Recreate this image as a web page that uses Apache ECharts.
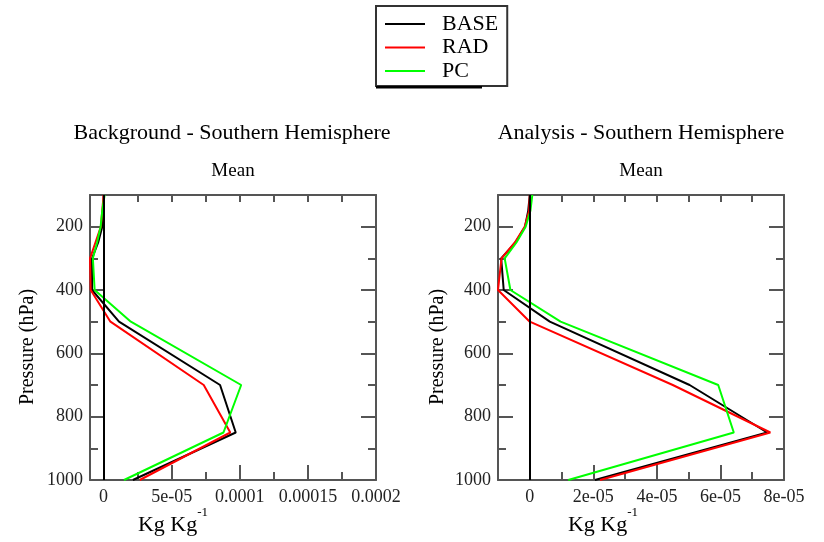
<!DOCTYPE html>
<html>
<head>
<meta charset="utf-8">
<script src="https://cdn.jsdelivr.net/npm/echarts@6/dist/echarts.min.js"></script>
<style>
html,body{margin:0;padding:0;background:#fff;}
#chart{width:824px;height:542px;}
</style>
</head>
<body>
<div id="chart"></div>
<script>
// ---- data ----
const pressure = [100, 150, 200, 250, 300, 400, 500, 700, 850, 1000];

// Background - Southern Hemisphere (Kg/Kg)
const bgBase = [0, 0, -1e-6, -4e-6, -8.5e-6, -8.5e-6, 1.13e-5, 8.55e-5, 9.7e-5, 2.15e-5];
const bgRad  = [0, -1e-6, -2e-6, -6e-6, -1.0e-5, -9.5e-6, 5e-6, 7.35e-5, 9.3e-5, 2.65e-5];
const bgPc   = [7e-7, -1e-6, -2.2e-6, -4.8e-6, -7.9e-6, -6.6e-6, 2.0e-5, 1.01e-4, 8.8e-5, 1.5e-5];

// Analysis - Southern Hemisphere (Kg/Kg)
const anBase = [0, -5e-7, -1.5e-6, -4.5e-6, -9e-6, -8.2e-6, 6.3e-6, 5.03e-5, 7.47e-5, 2.05e-5];
const anRad  = [0, -2e-7, -1.6e-6, -4.7e-6, -8.9e-6, -1.0e-5, 0, 4.5e-5, 7.57e-5, 2.21e-5];
const anPc   = [8e-7, 2e-7, -1.3e-6, -4.2e-6, -7.9e-6, -6.1e-6, 9.7e-6, 5.93e-5, 6.42e-5, 1.21e-5];

// tick values / labels
const bgXTicks = [0, 5e-5, 1e-4, 1.5e-4, 2e-4];
const bgXTickLabels = ['0', '5e-05', '0.0001', '0.00015', '0.0002'];
const bgXMinor = [2.5e-5, 7.5e-5, 1.25e-4, 1.75e-4];
const anXTicks = [0, 2e-5, 4e-5, 6e-5, 8e-5];
const anXTickLabels = ['0', '2e-05', '4e-05', '6e-05', '8e-05'];
const anXMinor = [1e-5, 3e-5, 5e-5, 7e-5];
const pTicks = [200, 400, 600, 800, 1000];
const pTickLabels = ['200', '400', '600', '800', '1000'];
const pMinor = [300, 500, 700, 900];

const seriesNames = ['BASE', 'RAD', 'PC'];
const seriesColors = ['#000000', '#ff0000', '#00ff00'];
const panelTitles = ['Background - Southern Hemisphere', 'Analysis - Southern Hemisphere'];
const panelSubtitle = 'Mean';
const yName = 'Pressure (hPa)';

// ---- styling ----
const FONT = '"Liberation Serif", "Times New Roman", serif';
const FRAME = '#555';
const lineSt = {color: FRAME, width: 2};

function labelFmt(ticks, labels) {
  return function (v) {
    const i = ticks.findIndex(t => Math.abs(t - v) < 1e-12);
    return i >= 0 ? labels[i] : '';
  };
}

function xAxesFor(g, min, max, majors, minors, labels) {
  return [
    { gridIndex: g, type: 'value', min, max, position: 'bottom',
      axisLine: {show: true, onZero: false, lineStyle: lineSt},
      axisTick: {show: true, inside: true, length: 15, customValues: majors, lineStyle: lineSt},
      axisLabel: {show: true, customValues: majors, formatter: labelFmt(majors, labels),
                  fontFamily: FONT, fontSize: 18, color: '#222', margin: 8},
      splitLine: {show: false} },
    { gridIndex: g, type: 'value', min, max, position: 'bottom',
      axisLine: {show: false, onZero: false},
      axisTick: {show: true, inside: true, length: 8, customValues: minors, lineStyle: lineSt},
      axisLabel: {show: false}, splitLine: {show: false} },
    { gridIndex: g, type: 'value', min, max, position: 'top',
      axisLine: {show: true, onZero: false, lineStyle: lineSt},
      axisTick: {show: true, inside: true, length: 7, customValues: majors.concat(minors), lineStyle: lineSt},
      axisLabel: {show: false}, splitLine: {show: false} }
  ];
}

function yAxesFor(g) {
  const base = {gridIndex: g, type: 'value', min: 100, max: 1000, inverse: true, splitLine: {show: false}};
  return [
    Object.assign({}, base, { position: 'left',
      axisLine: {show: true, onZero: false, lineStyle: lineSt},
      axisTick: {show: true, inside: true, length: 15, customValues: pTicks, lineStyle: lineSt},
      axisLabel: {show: true, customValues: pTicks, formatter: labelFmt(pTicks, pTickLabels),
                  fontFamily: FONT, fontSize: 18, color: '#222', margin: 7} }),
    Object.assign({}, base, { position: 'left',
      axisLine: {show: false, onZero: false},
      axisTick: {show: true, inside: true, length: 8, customValues: pMinor, lineStyle: lineSt},
      axisLabel: {show: false} }),
    Object.assign({}, base, { position: 'right',
      axisLine: {show: true, onZero: false, lineStyle: lineSt},
      axisTick: {show: true, inside: true, length: 15, customValues: pTicks, lineStyle: lineSt},
      axisLabel: {show: false} }),
    Object.assign({}, base, { position: 'right',
      axisLine: {show: false, onZero: false},
      axisTick: {show: true, inside: true, length: 8, customValues: pMinor, lineStyle: lineSt},
      axisLabel: {show: false} })
  ];
}

function mkSeries(name, color, values, xi, yi, withZero) {
  const s = {
    name, type: 'line', xAxisIndex: xi, yAxisIndex: yi,
    data: values.map((v, i) => [v, pressure[i]]),
    showSymbol: false, symbol: 'none',
    lineStyle: {color, width: 2}, itemStyle: {color},
    animation: false, silent: true
  };
  if (withZero) {
    s.markLine = {silent: true, symbol: 'none', animation: false,
      label: {show: false},
      lineStyle: {color: '#000', width: 2, type: 'solid'},
      data: [{xAxis: 0}]};
  }
  return s;
}

const grids = [
  {left: 90, top: 195, width: 286, height: 285},
  {left: 498, top: 195, width: 286, height: 285}
];

function txt(x, y, text, size, rot) {
  return {type: 'text', x, y, rotation: rot || 0, z: 50,
    style: {text, fontFamily: FONT, fontSize: size, fill: '#000',
      align: 'center', verticalAlign: 'middle', textAlign: 'center', textVerticalAlign: 'middle'}};
}
function unitTxt(x, y) {
  return {type: 'text', x, y, z: 50, style: {text: '{a|Kg Kg}{b|-1}', fill: '#000',
    align: 'center', verticalAlign: 'middle', textAlign: 'center', textVerticalAlign: 'middle',
    rich: {a: {fontFamily: FONT, fontSize: 22, lineHeight: 30, verticalAlign: 'bottom'},
           b: {fontFamily: FONT, fontSize: 13, lineHeight: 30, verticalAlign: 'top'}}}};
}

const option = {
  backgroundColor: '#fff',
  animation: false,
  grid: grids,
  xAxis: [].concat(
    xAxesFor(0, -1e-5, 2e-4, bgXTicks, bgXMinor, bgXTickLabels),
    xAxesFor(1, -1e-5, 8e-5, anXTicks, anXMinor, anXTickLabels)
  ),
  yAxis: [].concat(yAxesFor(0), yAxesFor(1)),
  legend: {
    data: seriesNames.map(n => ({name: n})),
    orient: 'vertical', left: 376, top: 6,
    icon: 'rect', itemWidth: 40, itemHeight: 2, itemGap: 1.5,
    padding: [7, 9, 4, 9],
    borderColor: '#333', borderWidth: 2, backgroundColor: '#fff',
    textStyle: {fontFamily: FONT, fontSize: 22, color: '#000', padding: [0, 0, 0, 12], lineHeight: 22},
    selectedMode: false
  },
  series: [
    mkSeries('BASE', seriesColors[0], bgBase, 0, 0, true),
    mkSeries('RAD', seriesColors[1], bgRad, 0, 0, false),
    mkSeries('PC', seriesColors[2], bgPc, 0, 0, false),
    mkSeries('BASE', seriesColors[0], anBase, 3, 4, true),
    mkSeries('RAD', seriesColors[1], anRad, 3, 4, false),
    mkSeries('PC', seriesColors[2], anPc, 3, 4, false)
  ],
  graphic: [
    {type: 'rect', z: 100, shape: {x: 376, y: 86, width: 106, height: 2.5}, style: {fill: '#000'}},
    txt(232, 133, panelTitles[0], 22),
    txt(641, 133, panelTitles[1], 22),
    txt(233, 171, panelSubtitle, 19),
    txt(641, 171, panelSubtitle, 19),
    txt(28, 347, yName, 20, Math.PI / 2),
    txt(438, 347, yName, 20, Math.PI / 2),
    unitTxt(173, 521),
    unitTxt(603, 521)
  ]
};

const chart = echarts.init(document.getElementById('chart'), null, {renderer: 'canvas'});
chart.setOption(option);
</script>
</body>
</html>
